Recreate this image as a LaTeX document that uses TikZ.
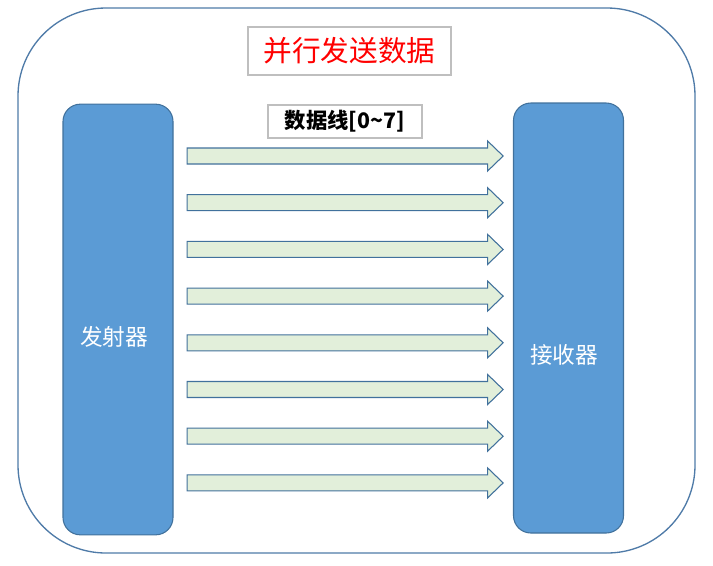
\documentclass[tikz,border=0pt]{standalone}
\usepackage{fontspec}
\setmainfont{Noto Sans CJK SC}
\usepackage{tikz}
\usetikzlibrary{positioning,shapes.arrows}
\definecolor{frameblue}{HTML}{4F7BA8}
\definecolor{blockfill}{HTML}{5B9BD5}
\definecolor{blockline}{HTML}{41719C}
\definecolor{linefill}{HTML}{E2EFDA}
\definecolor{boxgray}{HTML}{BFBFBF}
\tikzset{
    x=0.75pt,
    y=-0.75pt,
    frame/.style = {
        draw=frameblue,
        shape=rectangle,
        rounded corners=66pt,
        minimum width=507.75pt,
        minimum height=408.75pt,
        line width=1pt
    },
    block/.style = {
        draw=blockline,
        fill=blockfill,
        shape=rectangle,
        rounded corners=13pt,
        minimum width=82.5pt,
        minimum height=323pt,
        line width=0.8pt
    },
    blocktext/.style = {
        text=white,
        font=\fontsize{17pt}{20pt}\selectfont
    },
    titlebox/.style = {
        draw=boxgray,
        shape=rectangle,
        line width=0.8pt
    },
    dataline/.style = {
        draw=blockline,
        fill=linefill,
        shape=single arrow,
        inner sep=5.6pt,
        minimum height=237pt,
        single arrow head extend=5.25pt,
        single arrow tip angle=88,
        line width=0.8pt
    },
}

\begin{document}
\begin{tikzpicture}
                \useasboundingbox (0,0) rectangle (713,565);
                \node[frame] (frame) at (356.5,280.5) {};

                \node[block] (tx) at (118,319.5) {};
                \node[block, minimum height=322.5pt] (rx) at (568.5,318) {};
                \node[blocktext] (txtext) at (114,337) {发射器};
                \node[blocktext] (rxtext) at (564,355) {接收器};

                \node[titlebox, minimum width=152.25pt, minimum height=36pt, text=red,
                      font=\fontsize{21.5pt}{24pt}\selectfont] (title) at (349.5,51) {并行发送数据};
                \node[titlebox, minimum width=115.5pt, minimum height=24.75pt,
                      font=\fontsize{16pt}{19pt}\selectfont\bfseries] (bus) at (345,121.5) {数据线[0\textasciitilde7]};

                \node[dataline] (d0) at (341,156) {};
                \node[dataline] (d1) at (341,202.7) {};
                \node[dataline] (d2) at (341,249.4) {};
                \node[dataline] (d3) at (341,296.1) {};
                \node[dataline] (d4) at (341,342.8) {};
                \node[dataline] (d5) at (341,389.5) {};
                \node[dataline] (d6) at (341,436.2) {};
                \node[dataline] (d7) at (341,482.9) {};
\end{tikzpicture}
\end{document}
